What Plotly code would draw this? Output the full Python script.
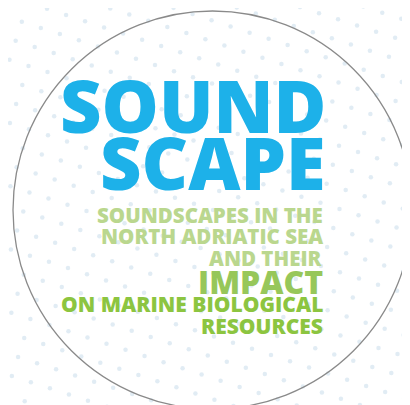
import numpy as np
import plotly.graph_objects as go

# Text lines of the logo (content)
title_lines = ["SOUND", "SCAPE"]
subtitle_lines = ["SOUNDSCAPES IN THE", "NORTH ADRIATIC SEA", "AND THEIR",
                  "IMPACT", "ON MARINE BIOLOGICAL", "RESOURCES"]

# Layout / style (kept separate from content)
title_y = [97, 154]
title_size = [72, 72]
sub_y = [207, 228, 249.5, 273.5, 296, 317.5]
sub_size = [20.5, 20.5, 20.5, 32, 21, 21]
sub_color = ["#BAD78E", "#BAD78E", "#BAD78E", "#97C75A", "#8CC540", "#8CC540"]

W, H = 410, 405
fig = go.Figure()

# decorative background texture: faint tilted dot grid
ang = np.deg2rad(18)
g = np.arange(-30, 31)
gx, gy = np.meshgrid(g, g)
px = 205 + 20 * (gx * np.cos(ang) - gy * np.sin(ang))
py = 202 + 20 * (gx * np.sin(ang) + gy * np.cos(ang))
keep = (px > -5) & (px < W + 5) & (py > -5) & (py < H + 5)
fig.add_trace(go.Scatter(x=px[keep], y=py[keep], mode="markers", hoverinfo="skip",
                         marker=dict(size=4.5, color="rgba(175,205,225,0.38)", line=dict(width=0))))

fig.add_shape(type="circle", xref="x", yref="y", x0=5, x1=404, y0=3, y1=401,
              line=dict(color="#8a8a8a", width=1.3), fillcolor="rgba(255,255,255,0)",
              layer="above")

for t, y, s in zip(title_lines, title_y, title_size):
    fig.add_annotation(x=320, y=y, text=t, showarrow=False,
                       xanchor="right", yanchor="middle",
                       font=dict(family="Open Sans", size=s, color="#1DB1E9", weight=800))

for t, y, s, c in zip(subtitle_lines, sub_y, sub_size, sub_color):
    fig.add_annotation(x=317, y=y, text=t, showarrow=False,
                       xanchor="right", yanchor="middle",
                       font=dict(family="Open Sans", size=s, color=c, weight=800))

fig.update_layout(width=W, height=H, margin=dict(l=0, r=0, t=0, b=0),
                  paper_bgcolor="white", plot_bgcolor="white", showlegend=False,
                  xaxis=dict(range=[0, W], visible=False, fixedrange=True),
                  yaxis=dict(range=[H, 0], visible=False, fixedrange=True))

fig.write_html("out.html", config={"displayModeBar": False})
